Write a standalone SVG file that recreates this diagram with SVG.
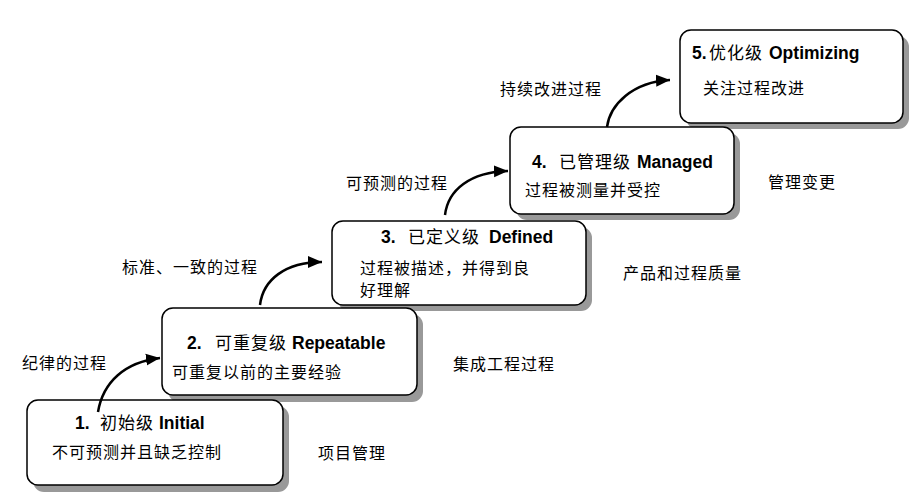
<svg xmlns="http://www.w3.org/2000/svg" width="912" height="494" viewBox="0 0 912 494">
<style>
.box{fill:#fff;stroke:#000;stroke-width:1.5}
.sh{fill:#999}
text{font-family:"Liberation Sans","Noto Sans CJK SC",sans-serif;font-size:16px;fill:#000;letter-spacing:1px}
.t{font-weight:bold;letter-spacing:0;font-size:17.5px}
.c{font-weight:normal;letter-spacing:1px;font-size:17px}
.conn{fill:none;stroke:#000;stroke-width:2.5}
</style>
<defs>
<marker id="ah" markerUnits="userSpaceOnUse" markerWidth="16" markerHeight="14" refX="14" refY="7" orient="auto">
<path d="M0,1 L14,7 L0,13 Z" fill="#000"/>
</marker>
</defs>
<rect width="912" height="494" fill="#fff"/>
<g id="node5">
<rect class="sh" x="686" y="36" width="223" height="93" rx="11"/>
<rect class="box" x="680" y="30" width="223" height="93" rx="11"/>
<text x="692" y="59" class="t">5.<tspan x="709" class="c">优化级</tspan><tspan x="769">Optimizing</tspan></text>
<text x="703" y="94">关注过程改进</text>
</g>
<g id="node4">
<rect class="sh" x="516" y="133" width="224" height="87" rx="11"/>
<rect class="box" x="510" y="127" width="224" height="87" rx="11"/>
<text x="532" y="168" class="t">4.<tspan x="559" class="c">已管理级</tspan><tspan x="637">Managed</tspan></text>
<text x="525" y="196">过程被测量并受控</text>
</g>
<g id="node3">
<rect class="sh" x="338" y="227" width="254" height="84" rx="11"/>
<rect class="box" x="332" y="221" width="254" height="84" rx="11"/>
<text x="381" y="243" class="t">3.<tspan x="408" class="c">已定义级</tspan><tspan x="489">Defined</tspan></text>
<text x="360" y="274">过程被描述，并得到良</text>
<text x="360" y="296">好理解</text>
</g>
<g id="node2">
<rect class="sh" x="168" y="314" width="255" height="88" rx="11"/>
<rect class="box" x="162" y="308" width="255" height="87" rx="11"/>
<text x="187" y="349" class="t">2.<tspan x="215" class="c">可重复级</tspan><tspan x="292">Repeatable</tspan></text>
<text x="172" y="378">可重复以前的主要经验</text>
</g>
<g id="node1">
<rect class="sh" x="33" y="406" width="256" height="86" rx="11"/>
<rect class="box" x="27" y="400" width="256" height="85" rx="11"/>
<text x="75" y="429" class="t">1.<tspan x="100" class="c">初始级</tspan><tspan x="159">Initial</tspan></text>
<text x="52" y="458">不可预测并且缺乏控制</text>
</g>
<g id="connectors">
<path class="conn" d="M98,412 C103,382 125,362 160,358" marker-end="url(#ah)"/>
<path class="conn" d="M260,305 C263,280 285,262 322,262" marker-end="url(#ah)"/>
<path class="conn" d="M445,215 C448,190 470,172 508,171" marker-end="url(#ah)"/>
<path class="conn" d="M607,127 C610,105 632,82 670,80" marker-end="url(#ah)"/>
</g>
<g id="labels">
<text x="22" y="369">纪律的过程</text>
<text x="122" y="273">标准、一致的过程</text>
<text x="346" y="189">可预测的过程</text>
<text x="500" y="95">持续改进过程</text>
<text x="768" y="188">管理变更</text>
<text x="623" y="279">产品和过程质量</text>
<text x="453" y="370">集成工程过程</text>
<text x="318" y="459">项目管理</text>
</g>
</svg>
